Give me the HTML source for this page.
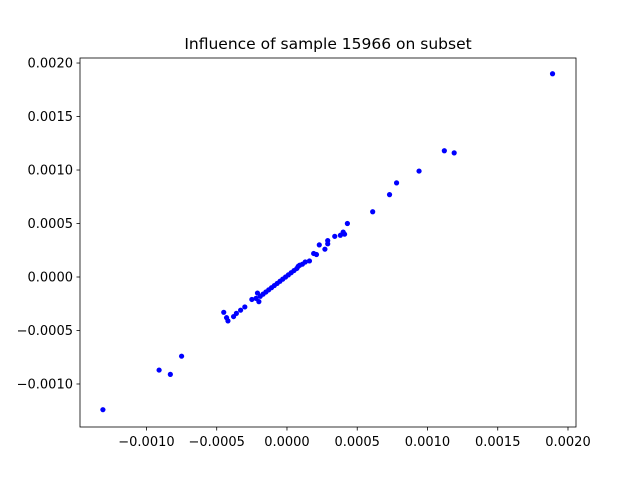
<!DOCTYPE html>
<html><head><meta charset="utf-8"><style>
body{margin:0;background:#fff;}
svg text{font-family:"DejaVu Sans","Liberation Sans",sans-serif;font-size:13px;fill:#000;}
</style></head><body>
<svg id="chart" width="640" height="480">
<rect width="640" height="480" fill="#fff"/>
<text x="328" y="49" text-anchor="middle" style="font-size:15.5px">Influence of sample 15966 on subset</text>
<g id="marks"></g>
<g id="axes"></g>
</svg>
<script>
const xVals=[-0.00131,-0.00091,-0.00083,-0.00075,-0.00045,-0.00043,-0.00042,-0.00038,-0.00036,-0.00033,-0.00030,-0.00025,-0.00022,-0.00021,-0.00019,-0.00017,-0.00015,-0.00013,-0.00011,-0.00009,-0.00007,-0.00005,-0.00003,-0.00001,0.00001,0.00003,0.00005,0.00007,0.00009,0.00011,0.00013,0.00016,0.00019,0.00021,0.00023,0.00027,0.00029,0.00029,0.00034,0.00038,0.00040,0.00041,0.00043,0.00061,0.00073,0.00078,0.00094,0.00112,0.00119,0.00189,-0.00020,0.00008];
const yVals=[-0.00124,-0.00087,-0.00091,-0.00074,-0.00033,-0.00038,-0.00041,-0.00037,-0.00034,-0.00031,-0.00028,-0.00021,-0.00020,-0.00015,-0.00018,-0.00016,-0.00014,-0.00012,-0.00010,-0.00008,-0.00006,-0.00004,-0.00002,0.00000,0.00002,0.00004,0.00006,0.00008,0.00011,0.00012,0.00014,0.00015,0.00022,0.00021,0.00030,0.00026,0.00031,0.00034,0.00038,0.00039,0.00042,0.00040,0.00050,0.00061,0.00077,0.00088,0.00099,0.00118,0.00116,0.00190,-0.00023,0.00010];
const xTicks=[-0.0010,-0.0005,0.0000,0.0005,0.0010,0.0015,0.0020];
const yTicks=[-0.0010,-0.0005,0.0000,0.0005,0.0010,0.0015,0.0020];
const L=80,R=576,T=58,B=427;
const xMin=-0.001473,xMax=0.002057,yMin=-0.001402,yMax=0.002047;
const sx=v=>L+(v-xMin)/(xMax-xMin)*(R-L);
const sy=v=>B-(v-yMin)/(yMax-yMin)*(B-T);
const NS="http://www.w3.org/2000/svg";
const marks=document.getElementById('marks'),axes=document.getElementById('axes');
xVals.forEach((x,i)=>{
 const c=document.createElementNS(NS,'circle');
 c.setAttribute('cx',sx(x));c.setAttribute('cy',sy(yVals[i]));c.setAttribute('r',2.6);c.setAttribute('fill','#0000ff');
 
 
 marks.appendChild(c);
});
const f=v=>v.toFixed(4).replace('-','\u2212');
xTicks.forEach(v=>{
 const x=sx(v);
 const l=document.createElementNS(NS,'line');
 l.setAttribute('x1',x);l.setAttribute('x2',x);l.setAttribute('y1',B);l.setAttribute('y2',B+3.5);l.setAttribute('stroke','#000');l.setAttribute('stroke-width','0.8');
 
 
 axes.appendChild(l);
 const t=document.createElementNS(NS,'text');
 t.setAttribute('x',x);t.setAttribute('y',B+19);t.setAttribute('text-anchor','middle');t.textContent=f(v);
 
 
 axes.appendChild(t);
});
yTicks.forEach(v=>{
 const y=sy(v);
 const l=document.createElementNS(NS,'line');
 l.setAttribute('x1',L-3.5);l.setAttribute('x2',L);l.setAttribute('y1',y);l.setAttribute('y2',y);l.setAttribute('stroke','#000');l.setAttribute('stroke-width','0.8');
 
 
 axes.appendChild(l);
 const t=document.createElementNS(NS,'text');
 t.setAttribute('x',L-7);t.setAttribute('y',y+4.5);t.setAttribute('text-anchor','end');t.textContent=f(v);
 
 
 axes.appendChild(t);
});
const fr=document.createElementNS(NS,'rect');
fr.setAttribute('x',L);fr.setAttribute('y',T);fr.setAttribute('width',R-L);fr.setAttribute('height',B-T);fr.setAttribute('fill','none');fr.setAttribute('stroke','#000');fr.setAttribute('stroke-width','0.8');


axes.appendChild(fr);
</script>
</body></html>
